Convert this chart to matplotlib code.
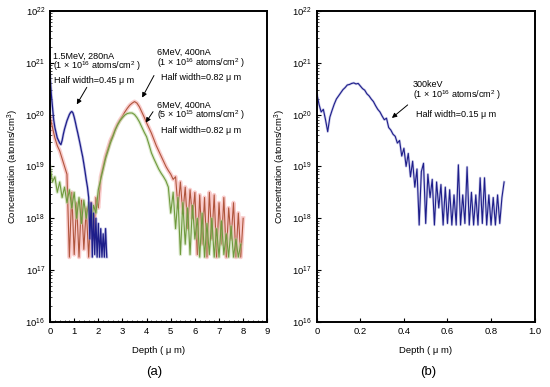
import numpy as np
import matplotlib
matplotlib.use("Agg")
import matplotlib.pyplot as plt
from matplotlib.ticker import LogLocator, MultipleLocator, FixedLocator

plt.rcParams["font.family"] = ["Liberation Sans", "DejaVu Sans"]
plt.rcParams["mathtext.fontset"] = "custom"
plt.rcParams["mathtext.rm"] = "Liberation Sans"
plt.rcParams["mathtext.it"] = "Liberation Sans:italic"

# log10 of concentration (atoms/cm3)
depth_blue = np.arange(0, 2.351, 0.05)
logc_blue = [20.76, 20.4, 20.15, 19.9, 19.75, 19.65, 19.55, 19.5, 19.45, 19.42,
             19.5, 19.62, 19.72, 19.8, 19.88, 19.94, 20.0, 20.04, 20.06, 20.03,
             19.95, 19.85, 19.74, 19.64, 19.53, 19.42, 19.3, 19.19, 19.05, 18.9,
             18.74, 18.6, 18.4, 17.6, 18.3, 17.25, 18.1, 17.3, 18.0, 17.25,
             17.9, 17.25, 17.8, 17.25, 17.7, 17.25, 17.8, 17.25]

depth_red = np.arange(0, 8.01, 0.1)
logc_red = [19.95, 19.75, 19.55, 19.4, 19.3, 19.15, 19.0, 18.85, 17.25, 18.5,
            17.3, 18.3, 17.25, 18.35, 17.4, 18.2, 17.25, 18.3, 17.6, 18.4,
            18.2, 18.8, 19.0, 19.2, 19.35, 19.5, 19.6, 19.72, 19.82, 19.9,
            19.97, 20.05, 20.12, 20.18, 20.22, 20.25, 20.22, 20.15, 20.05, 19.95,
            19.84, 19.74, 19.64, 19.52, 19.4, 19.3, 19.2, 19.1, 19.0, 18.92,
            18.85, 18.75, 18.8, 18.2, 18.7, 18.1, 18.6, 17.8, 18.55, 18.0,
            18.5, 17.3, 18.45, 17.5, 18.4, 17.25, 18.5, 17.6, 18.45, 17.25,
            18.3, 17.5, 18.4, 17.25, 18.2, 17.6, 18.3, 17.25, 18.1, 17.25, 18.0]

depth_green = np.arange(0, 7.91, 0.1)
logc_green = [19.0, 18.7, 18.8, 18.5, 18.7, 18.4, 18.6, 18.3, 18.55, 18.2,
              18.5, 18.0, 18.4, 17.9, 18.35, 18.0, 18.3, 17.8, 18.25, 18.1,
              18.55, 18.75, 18.95, 19.15, 19.3, 19.45, 19.57, 19.7, 19.8, 19.88,
              19.94, 19.99, 20.02, 20.03, 20.03, 20.0, 19.94, 19.86, 19.76, 19.66,
              19.57, 19.42, 19.26, 19.15, 19.05, 18.95, 18.87, 18.8, 18.72, 18.6,
              18.1, 18.5, 17.8, 18.4, 17.3, 18.3, 17.5, 18.2, 17.3, 18.25,
              17.6, 18.0, 17.25, 18.1, 17.25, 17.9, 17.3, 18.0, 17.25, 17.8,
              17.25, 17.95, 17.3, 17.7, 17.25, 17.85, 17.25, 17.6, 17.25, 17.5]

depth_b = np.arange(0, 0.861, 0.01)
logc_b = [20.41, 20.2, 20.05, 20.1, 19.9, 19.67, 19.95, 20.08, 20.2, 20.3,
          20.36, 20.42, 20.48, 20.52, 20.57, 20.58, 20.6, 20.61, 20.59, 20.6,
          20.55, 20.5, 20.47, 20.4, 20.36, 20.3, 20.25, 20.17, 20.1, 20.05,
          19.97, 19.9, 19.93, 19.75, 19.7, 19.62, 19.58, 19.45, 19.5, 19.2,
          19.35, 19.0, 19.25, 18.8, 19.1, 18.6, 18.95, 17.87, 18.9, 19.06,
          17.9, 18.85, 18.4, 18.75, 17.87, 18.7, 18.2, 18.65, 17.87, 18.6,
          17.9, 18.55, 17.87, 18.45, 17.87, 19.03, 17.87, 18.45, 17.9, 18.99,
          17.87, 18.5, 17.87, 18.45, 17.87, 18.78, 17.9, 18.78, 17.87, 18.45,
          17.87, 18.4, 17.87, 18.45, 17.9, 18.4, 18.7]

ytick_vals = [1e16, 1e17, 1e18, 1e19, 1e20, 1e21, 1e22]
ytick_labels = ["10$^{16}$", "10$^{17}$", "10$^{18}$", "10$^{19}$",
                "10$^{20}$", "10$^{21}$", "10$^{22}$"]

BLUE = "#1e1e8a"
RED = "#b0553c"
GREEN = "#6f9a3d"
FS = 6.8
AFS = 6.5  # annotation text

fig = plt.figure(figsize=(5.5, 3.87), dpi=100)
ax_a = fig.add_axes([0.091, 0.168, 0.395, 0.804])
ax_b = fig.add_axes([0.576, 0.168, 0.396, 0.804])


def style_axes(ax):
    ax.set_yscale("log")
    ax.set_ylim(1e16, 1e22)
    ax.yaxis.set_major_locator(FixedLocator(ytick_vals))
    ax.set_yticklabels(ytick_labels)
    ax.yaxis.set_minor_locator(LogLocator(base=10, subs=np.arange(2, 10)))
    ax.yaxis.set_minor_formatter(plt.NullFormatter())
    ax.tick_params(which="both", direction="in", labelsize=FS, top=False, right=False)
    ax.tick_params(which="major", length=3, width=0.8)
    ax.tick_params(which="minor", length=1.5, width=0.5)
    for s in ax.spines.values():
        s.set_linewidth(1.4)
    ax.set_xlabel("Depth ( μ m)", fontsize=FS, labelpad=7)
    ax.set_ylabel("Concentration (atoms/cm$^3$)", fontsize=FS, labelpad=3)


def arrow(ax, x0, y0, x1, y1):
    ax.annotate("", xy=(x1, y1), xytext=(x0, y0),
                arrowprops=dict(arrowstyle="-|>", color="k", lw=0.7, mutation_scale=7))


# (a)
ax_a.plot(depth_red, 10 ** np.array(logc_red), color="#f5aaaa", lw=3.0, alpha=0.6)
ax_a.plot(depth_red, 10 ** np.array(logc_red), color=RED, lw=0.8)
ax_a.plot(depth_green, 10 ** np.array(logc_green), color="#b9d39a", lw=2.4, alpha=0.5)
ax_a.plot(depth_green, 10 ** np.array(logc_green), color=GREEN, lw=0.8)
ax_a.plot(depth_blue, 10 ** np.array(logc_blue), color="#8c8cd0", lw=2.0, alpha=0.5)
ax_a.plot(depth_blue, 10 ** np.array(logc_blue), color=BLUE, lw=0.9)
style_axes(ax_a)
ax_a.set_xlim(0, 9)
ax_a.xaxis.set_major_locator(MultipleLocator(1))
ax_a.xaxis.set_minor_locator(MultipleLocator(0.2))

ax_a.text(0.13, 10 ** 21.12, "1.5MeV, 280nA", fontsize=AFS, va="center")
ax_a.text(0.13, 10 ** 20.93, "(1 × 10$^{16}$ atoms/cm$^2$ )", fontsize=AFS, va="center")
ax_a.text(0.17, 10 ** 20.65, "Half width=0.45 μ m", fontsize=AFS, va="center")
arrow(ax_a, 1.58, 10 ** 20.57, 1.05, 10 ** 20.15)

ax_a.text(4.44, 10 ** 21.2, "6MeV, 400nA", fontsize=AFS, va="center")
ax_a.text(4.44, 10 ** 21.0, "(1 × 10$^{16}$ atoms/cm$^2$ )", fontsize=AFS, va="center")
ax_a.text(4.6, 10 ** 20.71, "Half width=0.82 μ m", fontsize=AFS, va="center")
arrow(ax_a, 4.36, 10 ** 20.8, 3.76, 10 ** 20.28)

ax_a.text(4.44, 10 ** 20.18, "6MeV, 400nA", fontsize=AFS, va="center")
ax_a.text(4.44, 10 ** 19.98, "(5 × 10$^{15}$ atoms/cm$^2$ )", fontsize=AFS, va="center")
ax_a.text(4.6, 10 ** 19.70, "Half width=0.82 μ m", fontsize=AFS, va="center")
arrow(ax_a, 4.33, 10 ** 20.1, 3.9, 10 ** 19.8)

# (b)
ax_b.plot(depth_b, 10 ** np.array(logc_b), color="#9a9ad6", lw=1.8, alpha=0.5)
ax_b.plot(depth_b, 10 ** np.array(logc_b), color=BLUE, lw=0.8)
style_axes(ax_b)
ax_b.set_xlim(0, 1.0)
ax_b.set_xticks([0, 0.2, 0.4, 0.6, 0.8, 1.0])
ax_b.set_xticklabels(["0", "0.2", "0.4", "0.6", "0.8", "1.0"])

ax_b.text(0.44, 10 ** 20.58, "300keV", fontsize=AFS, va="center")
ax_b.text(0.44, 10 ** 20.37, "(1 × 10$^{16}$ atoms/cm$^2$ )", fontsize=AFS, va="center")
ax_b.text(0.455, 10 ** 20.01, "Half width=0.15 μ m", fontsize=AFS, va="center")
arrow(ax_b, 0.427, 10 ** 20.22, 0.335, 10 ** 19.9)

fig.text(154 / 550, 1 - 372 / 387, "(a)", fontsize=9.5, ha="center", va="center")
fig.text(428 / 550, 1 - 372 / 387, "(b)", fontsize=9.5, ha="center", va="center")

fig.savefig("out.png", dpi=100)
